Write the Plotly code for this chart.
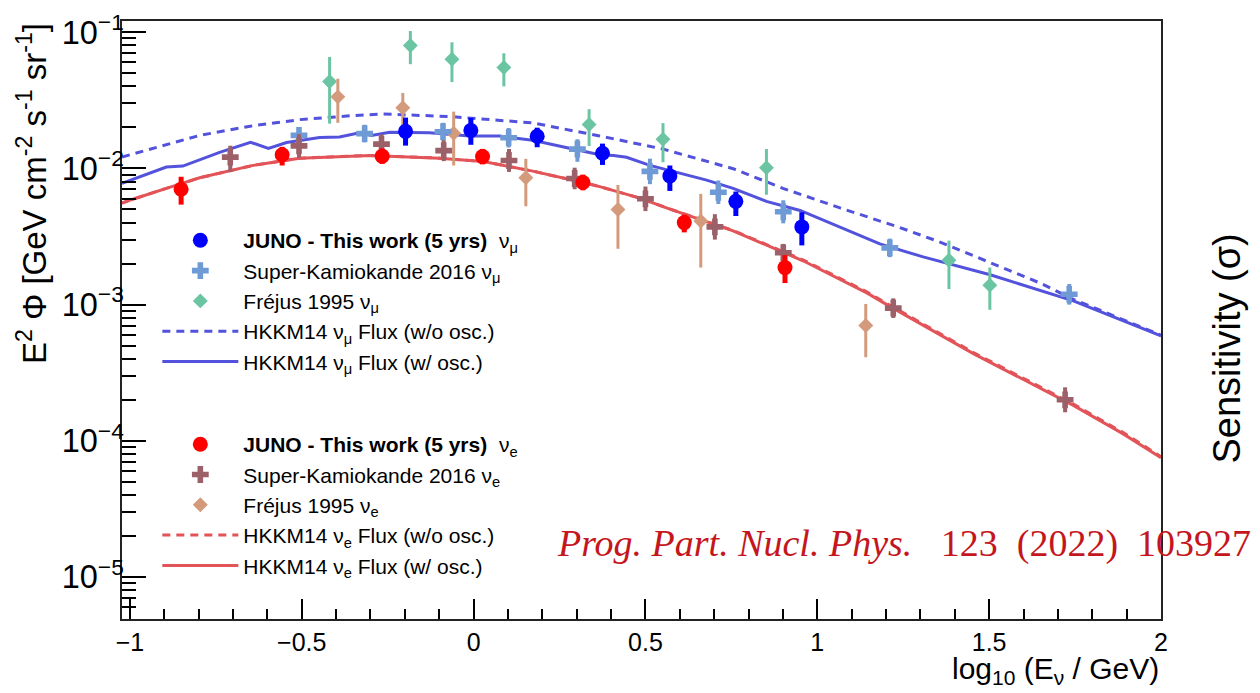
import plotly.graph_objects as go

# ---------------- data ----------------
# JUNO - this work, nu_mu
juno_mu_x = [-0.198, -0.008, 0.185, 0.375, 0.571, 0.763, 0.955]
juno_mu_y = [0.0187, 0.0190, 0.0172, 0.0129, 0.00881, 0.00573, 0.00372]
juno_mu_hi = [0.0236, 0.0235, 0.0199, 0.0152, 0.0105, 0.00676, 0.00477]
juno_mu_lo = [0.0147, 0.0149, 0.0143, 0.0106, 0.00683, 0.00447, 0.00272]

# JUNO - this work, nu_e
juno_e_x = [-0.851, -0.557, -0.266, 0.026, 0.318, 0.613, 0.906]
juno_e_y = [0.00703, 0.0126, 0.0123, 0.0122, 0.00788, 0.0040, 0.00187]
juno_e_hi = [0.00868, 0.0144, 0.0140, 0.0139, 0.0090, 0.00457, 0.00231]
juno_e_lo = [0.00542, 0.0105, 0.0108, 0.0107, 0.0069, 0.00339, 0.00144]

# Super-Kamiokande 2016, nu_mu
sk_mu_x = [-0.508, -0.317, -0.089, 0.102, 0.302, 0.513, 0.712, 0.901, 1.211, 1.733]
sk_mu_y = [0.01746, 0.0180, 0.0186, 0.0168, 0.01386, 0.0095, 0.00668, 0.0048, 0.00261, 0.00119]
sk_mu_hi = [0.0196, 0.0209, 0.0216, 0.0198, 0.01636, 0.01178, 0.00815, 0.00583, 0.00305, 0.001416]
sk_mu_lo = [0.01529, 0.0155, 0.0160, 0.01424, 0.01118, 0.00766, 0.00548, 0.00395, 0.00223, 0.00100]

# Super-Kamiokande 2016, nu_e
sk_e_x = [-0.708, -0.508, -0.268, -0.087, 0.103, 0.294, 0.500, 0.702, 0.901, 1.221, 1.721]
sk_e_y = [0.0121, 0.01463, 0.01507, 0.0135, 0.01143, 0.00843, 0.00598, 0.00372, 0.0024, 0.000942, 0.000200]
sk_e_hi = [0.01467, 0.01785, 0.01778, 0.01612, 0.01388, 0.01012, 0.00736, 0.00461, 0.00279, 0.001112, 0.000247]
sk_e_lo = [0.00944, 0.01199, 0.01277, 0.01131, 0.00942, 0.00703, 0.00486, 0.00300, 0.00207, 0.000798, 0.000162]

# Frejus 1995, nu_mu
fr_mu_x = [-0.419, -0.184, -0.063, 0.088, 0.336, 0.551, 0.852, 1.383, 1.502]
fr_mu_y = [0.0435, 0.0798, 0.0633, 0.0551, 0.0210, 0.01637, 0.0101, 0.00212, 0.00139]
fr_mu_hi = [0.0658, 0.102, 0.0843, 0.0700, 0.0272, 0.0215, 0.01387, 0.00295, 0.00187]
fr_mu_lo = [0.0213, 0.0582, 0.0430, 0.0400, 0.0146, 0.0111, 0.0064, 0.0013, 0.000916]

# Frejus 1995, nu_e
fr_e_x = [-0.395, -0.206, -0.058, 0.152, 0.420, 0.661, 1.141]
fr_e_y = [0.0335, 0.0279, 0.0181, 0.00853, 0.00499, 0.00411, 0.000703]
fr_e_hi = [0.0455, 0.0358, 0.0261, 0.01175, 0.00755, 0.0065, 0.00101]
fr_e_lo = [0.0216, 0.0204, 0.0105, 0.00527, 0.00257, 0.00187, 0.000411]

# HKKM14 nu_mu flux, without oscillation
hk_mu_noosc_x = [-1.023, -0.9, -0.797, -0.65, -0.506, -0.35, -0.265, -0.07, 0.172, 0.367,
                 0.551, 0.755, 0.900, 1.066, 1.240, 1.357, 1.531, 1.648, 1.745, 2.0]
hk_mu_noosc_y = [0.01213, 0.01479, 0.01746, 0.02042, 0.02280, 0.02443, 0.02506, 0.02404, 0.02158, 0.01730,
                 0.01387, 0.00995, 0.00714, 0.00513, 0.00368, 0.00288, 0.00190, 0.00144, 0.001094, 0.000596]

# HKKM14 nu_mu flux, with oscillation
hk_mu_osc_x = [-1.023, -0.996, -0.894, -0.846, -0.739, -0.649, -0.597, -0.544, -0.448, -0.390,
               -0.332, -0.297, -0.244, -0.128, -0.011, 0.076, 0.172, 0.289, 0.367, 0.407,
               0.445, 0.513, 0.678, 0.755, 0.852, 0.950, 1.046, 1.114, 1.182, 1.308,
               1.503, 1.745, 2.0]
hk_mu_osc_y = [0.00776, 0.00820, 0.01023, 0.01040, 0.01312, 0.01556, 0.01403, 0.01549, 0.01683, 0.01698,
               0.01828, 0.01746, 0.01845, 0.01828, 0.01726, 0.01726, 0.01607, 0.01387, 0.01260, 0.01242,
               0.01208, 0.01052, 0.00820, 0.00714, 0.00573, 0.00491, 0.00389, 0.00330, 0.00279, 0.00224,
               0.001656, 0.001064, 0.000589]

# HKKM14 nu_e flux, without oscillation
hk_e_noosc_x = [-1.023, -0.996, -0.894, -0.797, -0.642, -0.506, -0.30, -0.10, 0.029, 0.115,
                0.172, 0.309, 0.367, 0.484, 0.561, 0.755, 0.96, 1.144, 1.211, 1.454,
                1.745, 1.890, 2.0]
hk_e_noosc_y = [0.00557, 0.00589, 0.00714, 0.00853, 0.01052, 0.01189, 0.01245, 0.01189, 0.01122, 0.01023,
                0.00955, 0.00798, 0.00735, 0.00605, 0.00513, 0.00350, 0.00212, 0.00124, 0.00099, 0.000445,
                0.000186, 0.000115, 0.0000765]

# HKKM14 nu_e flux, with oscillation
hk_e_osc_x = [-1.023, -0.996, -0.894, -0.797, -0.642, -0.506, -0.30, -0.10, 0.029, 0.115,
              0.172, 0.309, 0.367, 0.484, 0.561, 0.755, 0.96, 1.144, 1.211, 1.454,
              1.745, 1.890, 2.0]
hk_e_osc_y = [0.00557, 0.00589, 0.00714, 0.00853, 0.01052, 0.01189, 0.01245, 0.01189, 0.01122, 0.01023,
              0.00955, 0.00798, 0.00735, 0.00605, 0.00513, 0.00348, 0.00209, 0.00122, 0.00097, 0.000437,
              0.000182, 0.0001125, 0.0000750]

# ---------------- styling ----------------
FONT = "Liberation Sans, Arial, Helvetica, sans-serif"
C_JUNO_MU = "#0000ff"
C_JUNO_E = "#ff0000"
C_SK_MU = "#6e9bd6"
C_SK_E = "#9c6168"
C_FR_MU = "#6cc5a2"
C_FR_E = "#d49a7c"
C_HK_MU = "#5252dc"
C_HK_E = "#e25458"


def err(y, hi, lo):
    return dict(type="data", symmetric=False,
                array=[h - v for h, v in zip(hi, y)],
                arrayminus=[v - l for v, l in zip(y, lo)])


fig = go.Figure()

# curves (drawn first, below the points)
fig.add_trace(go.Scatter(x=hk_mu_noosc_x, y=hk_mu_noosc_y, mode="lines",
                         line=dict(color=C_HK_MU, width=3, dash="8px,6px"),
                         name="HKKM14 ν<sub>μ</sub> Flux (w/o osc.)",
                         legend="legend", legendrank=4))
fig.add_trace(go.Scatter(x=hk_mu_osc_x, y=hk_mu_osc_y, mode="lines",
                         line=dict(color=C_HK_MU, width=3),
                         name="HKKM14 ν<sub>μ</sub> Flux (w/ osc.)",
                         legend="legend", legendrank=5))
fig.add_trace(go.Scatter(x=hk_e_noosc_x, y=hk_e_noosc_y, mode="lines",
                         line=dict(color=C_HK_E, width=3, dash="8px,6px"),
                         name="HKKM14 ν<sub>e</sub> Flux (w/o osc.)",
                         legend="legend2", legendrank=4))
fig.add_trace(go.Scatter(x=hk_e_osc_x, y=hk_e_osc_y, mode="lines",
                         line=dict(color=C_HK_E, width=3),
                         name="HKKM14 ν<sub>e</sub> Flux (w/ osc.)",
                         legend="legend2", legendrank=5))

# Frejus
fig.add_trace(go.Scatter(x=fr_mu_x, y=fr_mu_y, mode="markers",
                         marker=dict(symbol="diamond", size=11.5, color=C_FR_MU),
                         error_y=dict(**err(fr_mu_y, fr_mu_hi, fr_mu_lo), color=C_FR_MU, thickness=3, width=0),
                         name="Fréjus 1995 ν<sub>μ</sub>", legend="legend", legendrank=3))
fig.add_trace(go.Scatter(x=fr_e_x, y=fr_e_y, mode="markers",
                         marker=dict(symbol="diamond", size=11.5, color=C_FR_E),
                         error_y=dict(**err(fr_e_y, fr_e_hi, fr_e_lo), color=C_FR_E, thickness=3, width=0),
                         name="Fréjus 1995 ν<sub>e</sub>", legend="legend2", legendrank=3))

# Super-K
fig.add_trace(go.Scatter(x=sk_mu_x, y=sk_mu_y, mode="markers",
                         marker=dict(symbol="cross", size=14, color=C_SK_MU),
                         error_y=dict(**err(sk_mu_y, sk_mu_hi, sk_mu_lo), color=C_SK_MU, thickness=4, width=0),
                         name="Super-Kamiokande 2016 ν<sub>μ</sub>", legend="legend", legendrank=2))
fig.add_trace(go.Scatter(x=sk_e_x, y=sk_e_y, mode="markers",
                         marker=dict(symbol="cross", size=14, color=C_SK_E),
                         error_y=dict(**err(sk_e_y, sk_e_hi, sk_e_lo), color=C_SK_E, thickness=4, width=0),
                         name="Super-Kamiokande 2016 ν<sub>e</sub>", legend="legend2", legendrank=2))

# JUNO
fig.add_trace(go.Scatter(x=juno_mu_x, y=juno_mu_y, mode="markers",
                         marker=dict(symbol="circle", size=15, color=C_JUNO_MU),
                         error_y=dict(**err(juno_mu_y, juno_mu_hi, juno_mu_lo), color=C_JUNO_MU, thickness=5, width=0),
                         name="<b>JUNO - This work (5 yrs)</b>  ν<sub>μ</sub>", legend="legend", legendrank=1))
fig.add_trace(go.Scatter(x=juno_e_x, y=juno_e_y, mode="markers",
                         marker=dict(symbol="circle", size=15, color=C_JUNO_E),
                         error_y=dict(**err(juno_e_y, juno_e_hi, juno_e_lo), color=C_JUNO_E, thickness=5, width=0),
                         name="<b>JUNO - This work (5 yrs)</b>  ν<sub>e</sub>", legend="legend2", legendrank=1))

legend_common = dict(bgcolor="rgba(0,0,0,0)", borderwidth=0, font=dict(family=FONT, size=21, color="black"),
                     xanchor="left", yanchor="top", traceorder="normal", itemsizing="trace", itemwidth=76)

fig.update_layout(
    width=1260, height=693,
    margin=dict(l=122, r=99, t=9, b=74),
    paper_bgcolor="white", plot_bgcolor="white",
    font=dict(family=FONT, color="black"),
    showlegend=True,
    legend=dict(x=0.0340, y=0.667, **legend_common),
    legend2=dict(x=0.0340, y=0.326, **legend_common),
    xaxis=dict(range=[-1.023, 2], tick0=0, dtick=0.5, ticks="inside", ticklen=20, tickwidth=1.5,
               tickcolor="black", showline=True, linewidth=2, linecolor="#222", mirror=True,
               showgrid=False, zeroline=False, tickfont=dict(size=25, family=FONT),
               minor=dict(ticks="inside", ticklen=10, dtick=0.1, tickwidth=1.5, tickcolor="black")),
    yaxis=dict(type="log", range=[-5.308, -0.918], dtick=1, exponentformat="power",
               ticks="inside", ticklen=24, tickwidth=1.5, tickcolor="black",
               showline=True, linewidth=2, linecolor="#222", mirror=True,
               showgrid=False, zeroline=False, tickfont=dict(size=26, family=FONT),
               ticklabeloverflow="allow", ticklabelstandoff=-9,
               minor=dict(ticks="inside", ticklen=14, dtick="D1", tickwidth=1.5, tickcolor="black")),
    annotations=[
        dict(text="E<sup>2</sup> Φ [GeV cm<sup>-2</sup> s<sup>-1</sup> sr<sup>-1</sup>]",
             xref="paper", yref="paper", x=-0.087, y=1.0, xanchor="center", yanchor="top",
             textangle=-90, showarrow=False, font=dict(size=33, family=FONT)),
        dict(text="log<sub>10</sub> (E<sub>ν</sub> / GeV)", xref="paper", yref="paper",
             x=1.0, y=-0.086, xanchor="right", yanchor="middle", showarrow=False,
             font=dict(size=30, family=FONT)),
        dict(text="Sensitivity (σ)", xref="paper", yref="paper", x=1.064, y=0.453,
             xanchor="center", yanchor="middle", textangle=-90, showarrow=False,
             font=dict(size=38, family=FONT)),
        dict(text="<i>Prog. Part. Nucl. Phys.</i>   123  (2022)  103927", xref="paper", yref="paper",
             x=0.4167, y=0.127, xanchor="left", yanchor="middle", showarrow=False,
             font=dict(size=38, family="Liberation Serif, Times New Roman, serif", color="#c4161c")),
    ],
)

fig.write_html("out.html", config={"displayModeBar": False})
